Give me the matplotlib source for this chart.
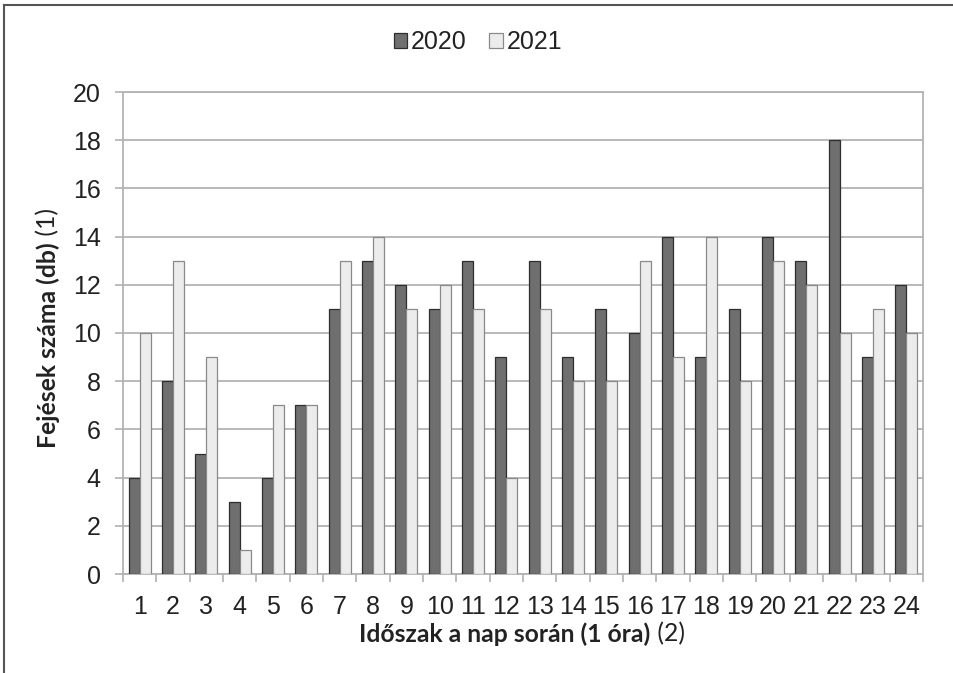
import numpy as np
import matplotlib.pyplot as plt
from matplotlib.lines import Line2D

hours = [str(h) for h in range(1, 25)]
y2020 = [4, 8, 5, 3, 4, 7, 11, 13, 12, 11, 13, 9, 13, 9, 11, 10, 14, 9, 11, 14, 13, 18, 9, 12]
y2021 = [10, 13, 9, 1, 7, 7, 13, 14, 11, 12, 11, 4, 11, 8, 8, 13, 9, 14, 8, 13, 12, 10, 11, 10]
yticks = list(range(0, 21, 2))

plt.rcParams['font.family'] = ['Liberation Sans', 'DejaVu Sans']
label_font = ['Lato', 'Liberation Sans', 'DejaVu Sans']
txt_color = '#222222'

fig = plt.figure(figsize=(9.54, 6.73), dpi=100)
ax = fig.add_axes([123 / 954, 1 - 574 / 673, (923 - 123) / 954, (574 - 92) / 673])

x = np.arange(len(hours))
w = 0.33
ax.bar(x - w / 2, y2020, width=w, color='#6f6f6f', edgecolor='#2e2e2e', linewidth=0.9, label='2020', zorder=3)
ax.bar(x + w / 2, y2021, width=w, color='#ececec', edgecolor='#8a8a8a', linewidth=0.9, label='2021', zorder=3)

ax.set_xlim(-0.5, len(hours) - 0.5)
ax.set_ylim(0, 20)
ax.set_yticks(yticks)
ax.set_yticklabels([str(t) for t in yticks], fontsize=18, color=txt_color)
ax.set_xticks(x)
ax.set_xticklabels(hours, fontsize=18, color=txt_color)
ax.set_xticks(np.arange(len(hours) + 1) - 0.5, minor=True)
ax.tick_params(axis='x', which='major', length=0, pad=15)
ax.tick_params(axis='x', which='minor', length=6, width=1.1, color='#aaaaaa', direction='out')
ax.tick_params(axis='y', length=6, width=1.1, color='#aaaaaa', direction='out', pad=10)

ax.grid(axis='y', color='#b3b3b3', linewidth=1.3, zorder=0)
for s in ax.spines.values():
    s.set_color('#b3b3b3')
    s.set_linewidth(1.3)

fig.legend(loc='center', bbox_to_anchor=(478 / 954, 1 - 42 / 673), ncol=2, frameon=False,
           fontsize=18, handlelength=0.55, handleheight=0.55, handletextpad=0.15, columnspacing=0.9,
           labelcolor=txt_color)

# axis titles: bold part followed by a normal-weight number
xl_b = fig.text(0, 0, 'Időszak a nap során (1 óra)', fontsize=17.8, fontweight='bold',
                family=label_font, ha='left', va='center', color=txt_color)
xl_n = fig.text(0, 0, ' (2)', fontsize=17.8, family=label_font, ha='left', va='center', color=txt_color)
yl_b = fig.text(0, 0, 'Fejések száma (db)', fontsize=17.8, fontweight='bold', rotation=90,
                family=label_font, ha='center', va='bottom', color=txt_color)
yl_n = fig.text(0, 0, ' (1)', fontsize=17.8, rotation=90, family=label_font,
                ha='center', va='bottom', color=txt_color)

fig.canvas.draw()
r = fig.canvas.get_renderer()
W, H = fig.bbox.width, fig.bbox.height

wb = xl_b.get_window_extent(r).width
wn = xl_n.get_window_extent(r).width
x0 = 522 - (wb + wn) / 2
yc = 1 - 634 / 673
xl_b.set_position((x0 / W, yc))
xl_n.set_position(((x0 + wb) / W, yc))

hb = yl_b.get_window_extent(r).height
hn = yl_n.get_window_extent(r).height
ybot = (673 - 328) - (hb + hn) / 2
yl_b.set_position((48 / W, ybot / H))
yl_n.set_position((48 / W, (ybot + hb) / H))

# outer frame of the chart
fig.add_artist(Line2D([4 / 954, 4 / 954], [0, 1 - 5 / 673], color='#555555', linewidth=1.5))
fig.add_artist(Line2D([4 / 954, 1], [1 - 5 / 673, 1 - 5 / 673], color='#555555', linewidth=1.5))

fig.savefig('out.png', dpi=100)
